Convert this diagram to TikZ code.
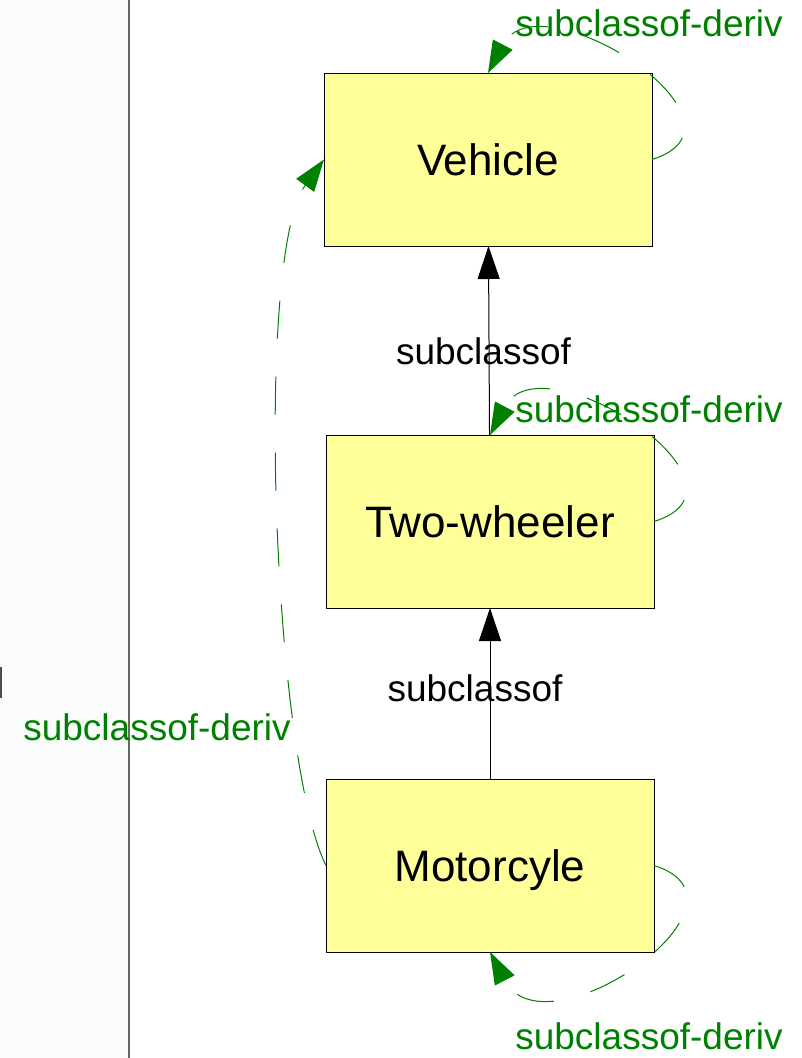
\documentclass[tikz,border=0pt]{standalone}
\usepackage{fontspec}
\setmainfont{Liberation Sans}
\usetikzlibrary{arrows.meta}
\definecolor{clsyellow}{RGB}{255,255,153}
\definecolor{derivgreen}{RGB}{0,128,0}
\definecolor{panelgray}{RGB}{250,252,251}
\begin{document}
\begin{tikzpicture}[x=1pt, y=-1pt,
    cls/.style={draw, fill=clsyellow, line width=1pt, minimum width=328pt, minimum height=173pt, inner sep=0pt, outer sep=0pt, text depth=0pt, font=\fontsize{44}{52}\selectfont},
    isa/.style={line width=1pt, -{Triangle[length=33pt,width=22pt]}},
    deriv/.style={derivgreen, line width=1pt, dash pattern=on 38pt off 38pt, -{Triangle[length=32pt,width=22pt]}},
    lab/.style={inner sep=0pt, font=\fontsize{37}{44}\selectfont, text=#1}]
        \useasboundingbox (0,0) rectangle (802,1058);
        \fill[panelgray] (0,0) rectangle (128,1058);
        \draw[line width=1.5pt, black!60] (129,0) -- (129,1058);
        \draw[line width=2pt, black!70] (1,667) -- (1,698);

        \node[cls] (v) at (488,159.5) {Vehicle};
        \node[cls] (t) at (490,521.5) {Two-wheeler};
        \node[cls] (m) at (490,865.5) {Motorcyle};

        \draw[isa] (t) -- (v);
        \draw[isa] (m) -- (t);
        \node[lab={black}] (tv) at (483.5,351) {subclassof};
        \node[lab={black}] (mt) at (475,688) {subclassof};

        \draw[deriv] (v.east) .. controls +(116,-36) and +(51,-98) .. (v.north);
        \draw[deriv] (t.east) .. controls +(116,-36) and +(51,-98) .. (t.north);
        \draw[deriv] (m.east) .. controls +(116,36) and +(55,106) .. (m.south);
        \draw[deriv] (m.west) .. controls +(-53,-106) and +(-70,96) .. (v.west);
        \node[lab={derivgreen}] (vv) at (649,23) {subclassof-deriv};
        \node[lab={derivgreen}] (tt) at (649,409) {subclassof-deriv};
        \node[lab={derivgreen}] (mm) at (649,1036) {subclassof-deriv};
        \node[lab={derivgreen}] (mv) at (157,727) {subclassof-deriv};
    \end{tikzpicture}
\end{document}
